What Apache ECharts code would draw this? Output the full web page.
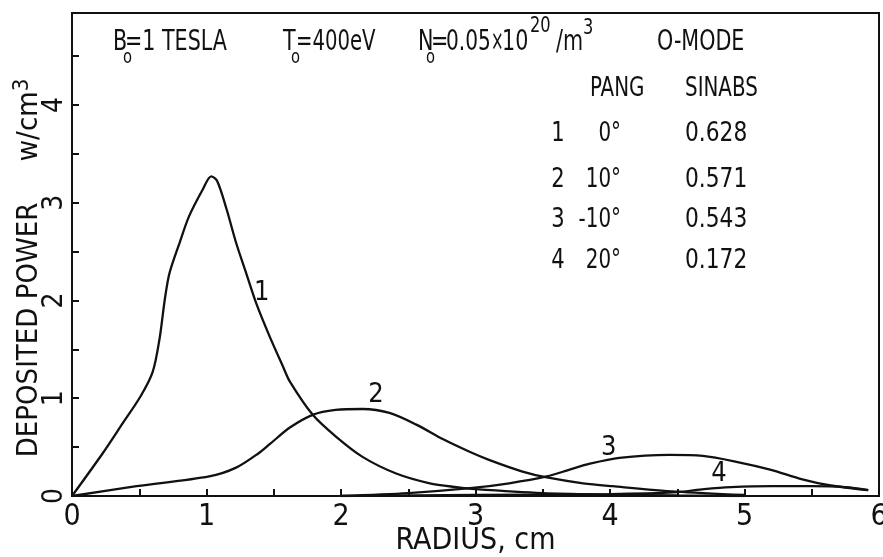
<!DOCTYPE html>
<html>
<head>
<meta charset="utf-8">
<script src="https://cdn.jsdelivr.net/npm/echarts@6.0.0/dist/echarts.min.js"></script>
<style>
  html, body { margin: 0; padding: 0; background: #fff; }
  #chart { width: 883px; height: 557px; }
</style>
</head>
<body>
<div id="chart"></div>
<script>
// radius (cm) and deposited power (w/cm3), one pair of arrays per curve
const r1 = [0, 0.23, 0.38, 0.51, 0.60, 0.65, 0.69, 0.725, 0.80, 0.87, 0.97, 1.035, 1.08, 1.15, 1.22, 1.295, 1.37, 1.47, 1.57, 1.62, 1.79, 1.96, 2.16, 2.41, 2.66, 2.86, 3.0, 3.5, 4.0, 4.5, 5.0];
const p1 = [0, 0.44, 0.75, 1.02, 1.27, 1.60, 2.01, 2.28, 2.59, 2.86, 3.13, 3.27, 3.22, 2.93, 2.59, 2.28, 1.97, 1.63, 1.32, 1.17, 0.83, 0.61, 0.40, 0.23, 0.13, 0.09, 0.07, 0.03, 0.015, 0.005, 0];

const r2 = [0, 0.48, 1.02, 1.22, 1.39, 1.47, 1.62, 1.79, 1.96, 2.16, 2.36, 2.56, 2.76, 2.96, 3.10, 3.35, 3.53, 3.80, 4.02, 4.49, 5.0];
const p2 = [0, 0.10, 0.20, 0.29, 0.44, 0.53, 0.70, 0.83, 0.88, 0.89, 0.85, 0.73, 0.58, 0.45, 0.37, 0.25, 0.19, 0.13, 0.10, 0.045, 0.01];

const r3 = [2.0, 2.5, 2.96, 3.25, 3.53, 3.70, 3.85, 4.07, 4.44, 4.69, 4.94, 5.19, 5.43, 5.63, 5.92];
const p3 = [0, 0.03, 0.08, 0.13, 0.20, 0.27, 0.33, 0.39, 0.42, 0.41, 0.35, 0.27, 0.17, 0.11, 0.06];

const r4 = [2.0, 3.0, 4.0, 4.5, 4.7, 4.9, 5.2, 5.5, 5.75, 5.92];
const p4 = [0, 0.01, 0.02, 0.04, 0.07, 0.09, 0.10, 0.10, 0.09, 0.06];

// table in the upper right corner
const caseNo = ['1', '2', '3', '4'];
const pang = ['0°', '10°', '-10°', '20°'];
const sinabs = ['0.628', '0.571', '0.543', '0.172'];

const FONT = "'DejaVu Sans Condensed', 'Liberation Sans Narrow', sans-serif";
const INK = '#111';

const zip = (xs, ys) => xs.map((x, i) => [x, ys[i]]);

// plotter lettering is narrow, so squeeze the text a bit
function txt(x, y, text, size, align, sx) {
  return {
    type: 'text', x: x, y: y, silent: true, scaleX: sx || 0.82,
    style: { text: text, fontSize: size, fontFamily: FONT, fill: INK, align: align || 'left', verticalAlign: 'middle' }
  };
}

const chart = echarts.init(document.getElementById('chart'));

const header = [
  txt(113, 43, 'B', 28), txt(123, 58, 'o', 20), txt(125, 43, '=1 TESLA', 28),
  txt(283, 43, 'T', 28), txt(291, 58, 'o', 20), txt(296, 43, '=400eV', 28, 'left', 0.78),
  txt(418, 43, 'N', 28), txt(426, 58, 'o', 20), txt(431, 43, '=', 28),
  txt(446, 43, '0.05', 28, 'left', 0.8), txt(491, 43, '×', 28, 'left', 0.6), txt(502, 43, '10', 28),
  txt(530, 26, '20', 22), txt(556, 43, '/m', 28), txt(583, 28, '3', 22),
  txt(657, 43, 'O-MODE', 28),
  txt(590, 89, 'PANG', 26, 'left', 0.85), txt(685, 89, 'SINABS', 26, 'left', 0.85)
];
const rowY = [134, 180, 220, 261];
const table = [];
caseNo.forEach((c, i) => {
  table.push(txt(558, rowY[i], c, 26, 'center', 0.9));
  table.push(txt(621, rowY[i], pang[i], 26, 'right', 0.85));
  table.push(txt(685, rowY[i], sinabs[i], 26, 'left', 0.93));
});

function curve(data, label, at) {
  return {
    type: 'line',
    data: data,
    symbol: 'none',
    smooth: 0.3,
    lineStyle: { color: INK, width: 2.3 },
    markPoint: {
      symbol: 'circle', symbolSize: 1,
      itemStyle: { color: 'rgba(0,0,0,0)' },
      label: { show: true, position: 'inside', formatter: label, fontSize: 27, fontFamily: FONT, color: INK },
      data: [{ coord: at }]
    }
  };
}

const option = {
  animation: false,
  backgroundColor: '#fff',
  grid: {
    left: 72, right: 4, top: 13, bottom: 61,
    outerBoundsMode: 'none',
    show: true, borderColor: INK, borderWidth: 2
  },
  xAxis: {
    type: 'value', min: 0, max: 6, interval: 0.5,
    name: 'RADIUS, cm', nameLocation: 'middle', nameGap: 30, nameMoveOverlap: false,
    nameTextStyle: { fontSize: 30, fontFamily: FONT, color: INK },
    axisLine: { lineStyle: { color: INK, width: 2 } },
    axisTick: { inside: true, length: 7, lineStyle: { color: INK, width: 2 } },
    axisLabel: {
      fontSize: 30, fontFamily: FONT, color: INK, margin: 6,
      formatter: v => Number.isInteger(v) ? String(v) : ''
    },
    splitLine: { show: false }
  },
  yAxis: {
    type: 'value', min: 0, max: 4.94, interval: 0.5,
    name: 'DEPOSITED POWER     w/cm{sup|3}', nameLocation: 'middle', nameGap: 25, nameRotate: 90,
    nameMoveOverlap: false,
    nameTextStyle: {
      fontSize: 29, fontFamily: FONT, color: INK, padding: [0, 27, 0, 0],
      rich: { sup: { fontSize: 22, fontFamily: FONT, color: INK, verticalAlign: 'top', padding: [0, 0, 14, 0] } }
    },
    axisLine: { lineStyle: { color: INK, width: 2 } },
    axisTick: { inside: true, length: 7, lineStyle: { color: INK, width: 2 } },
    axisLabel: {
      rotate: 90, fontSize: 28, fontFamily: FONT, color: INK, margin: 3,
      formatter: v => Number.isInteger(v) ? String(v) : ''
    },
    splitLine: { show: false }
  },
  graphic: header.concat(table),
  series: [
    curve(zip(r1, p1), '1', [1.41, 2.08]),
    curve(zip(r2, p2), '2', [2.26, 1.03]),
    curve(zip(r3, p3), '3', [3.99, 0.49]),
    curve(zip(r4, p4), '4', [4.81, 0.225])
  ]
};

chart.setOption(option);
</script>
</body>
</html>
